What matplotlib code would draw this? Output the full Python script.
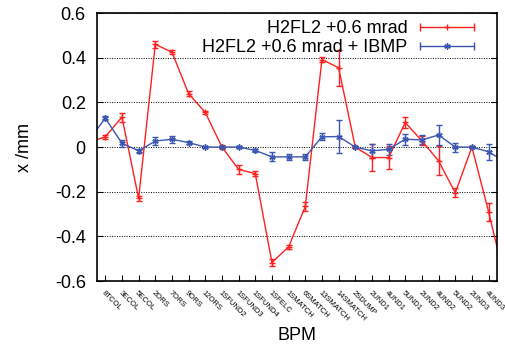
import matplotlib
matplotlib.use("Agg")
import matplotlib.pyplot as plt
from matplotlib.lines import Line2D
from matplotlib.legend_handler import HandlerLine2D
import numpy as np

plt.rcParams['font.family'] = ['Liberation Sans', 'DejaVu Sans']

BPM_LABELS = ["8TCOL", "3ECOL", "5ECOL", "2ORS", "7ORS", "9ORS", "12ORS",
              "1SFUND2", "1SFUND3", "1SFUND4", "1SFELC", "1SMATCH", "6SMATCH",
              "13SMATCH", "14SMATCH", "2SDUMP", "2UND1", "4UND1", "5UND1",
              "2UND2", "4UND2", "5UND2", "2UND3", "4UND3"]

# positions: one extra point on each side, partly outside the x range
BPM_POS = list(range(-1, 25))

RED_X = [0.02, 0.046, 0.134, -0.23, 0.46, 0.425, 0.239, 0.155, 0.0, -0.10,
         -0.119, -0.517, -0.447, -0.266, 0.392, 0.355, 0.0, -0.047, -0.047,
         0.11, 0.028, -0.062, -0.205, 0.0, -0.29, -0.60]
RED_ERR = [0.01, 0.01, 0.02, 0.01, 0.015, 0.01, 0.01, 0.005, 0.01, 0.02,
           0.01, 0.015, 0.01, 0.02, 0.01, 0.08, 0.005, 0.06, 0.05,
           0.025, 0.02, 0.065, 0.02, 0.005, 0.04, 0.04]

BLUE_X = [0.03, 0.129, 0.017, -0.017, 0.027, 0.035, 0.02, 0.0, 0.0, 0.0,
          -0.015, -0.044, -0.044, -0.044, 0.046, 0.047, 0.0, -0.017, -0.01,
          0.035, 0.032, 0.054, 0.0, 0.0, -0.021, -0.067]
BLUE_ERR = [0.01, 0.01, 0.015, 0.01, 0.02, 0.015, 0.008, 0.004, 0.004, 0.004,
            0.007, 0.02, 0.015, 0.015, 0.015, 0.075, 0.005, 0.03, 0.025,
            0.025, 0.02, 0.045, 0.02, 0.005, 0.035, 0.03]

RED = "#ff2020"
BLUE = "#3a56b0"
RED_MARK = '+'
BLUE_MARK = (6, 2, 0)

fig = plt.figure(figsize=(5.05, 3.44), dpi=100)
ax = fig.add_axes([0.192, 0.183, 0.792, 0.779])

ax.errorbar(BPM_POS, RED_X, yerr=RED_ERR, color=RED, lw=1, marker=RED_MARK, ms=4,
            capsize=2.5, elinewidth=1)
ax.errorbar(BPM_POS, BLUE_X, yerr=BLUE_ERR, color=BLUE, lw=1, marker=BLUE_MARK,
            ms=4.5, capsize=2.5, elinewidth=1)

ax.set_xlim(-0.5, 23.5)
ax.set_ylim(-0.6, 0.6)
ax.set_yticks([-0.6, -0.4, -0.2, 0, 0.2, 0.4, 0.6])
ax.set_yticklabels(["-0.6", "-0.4", "-0.2", "0", "0.2", "0.4", "0.6"])
ax.set_xticks(range(len(BPM_LABELS)))
ax.set_xticklabels(BPM_LABELS, rotation=-45, ha='left', va='top',
                   rotation_mode='anchor', fontsize=5.5)
ax.tick_params(axis='y', direction='in', right=True, labelsize=13, length=4, pad=8)
ax.tick_params(axis='x', direction='in', length=4, pad=6)
ax.yaxis.grid(True, linestyle=(0, (1, 1.5)), color='black', lw=0.7)
for s in ax.spines.values():
    s.set_linewidth(1.2)

ax.set_ylabel("x /mm", fontsize=13, labelpad=16)
ax.set_xlabel("BPM", fontsize=13, labelpad=3)

# legend handles drawn like gnuplot: line with caps at the ends and a point in the middle
handles = []
handler_map = {}
for col, mk in [(RED, RED_MARK), (BLUE, BLUE_MARK)]:
    caps = Line2D([], [], color=col, lw=1, marker='|', ms=6)
    mid = Line2D([], [], color=col, lw=0, marker=mk, ms=4.5)
    handler_map[caps] = HandlerLine2D(numpoints=2, marker_pad=0)
    handler_map[mid] = HandlerLine2D(numpoints=1)
    handles.append((caps, mid))

from matplotlib.legend_handler import HandlerTuple
handler_map[tuple] = HandlerTuple(ndivide=1)
ax.legend(handles, ["H2FL2 +0.6 mrad", "H2FL2 +0.6 mrad + IBMP"],
          handler_map=handler_map,
          loc='upper right', bbox_to_anchor=(0.962, 1.0), frameon=False,
          markerfirst=False, fontsize=13, handlelength=3.0, borderaxespad=0,
          labelspacing=0.1, handletextpad=0.7)

fig.savefig("out.png", dpi=100)
